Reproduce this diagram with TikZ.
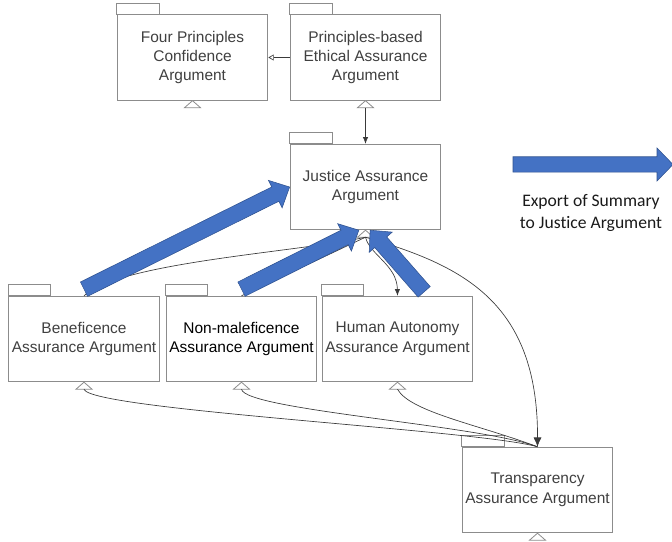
\documentclass[tikz,border=0pt]{standalone}
\usepackage{fontspec}
\setmainfont{Liberation Sans}
\newfontfamily\legendfont[Ligatures=NoCommon]{Carlito}
\usetikzlibrary{arrows.meta, positioning, calc}

\definecolor{boxline}{HTML}{8C8C8C}
\definecolor{boxtext}{HTML}{404040}
\definecolor{wire}{HTML}{3A3A3A}
\definecolor{exportblue}{HTML}{4472C4}
\definecolor{exportedge}{HTML}{2F528F}

\tikzset{
  pkg/.style={draw=boxline, line width=0.8pt, fill=white, minimum width=113pt, minimum height=64pt,
    inner sep=0pt, align=center, text=boxtext, font=\fontsize{11.6}{14.6}\selectfont},
  pkgtab/.style={draw=boxline, line width=0.8pt},
  pkgtri/.style={draw=boxline, line width=0.6pt, fill=white},
  wire/.style={draw=wire, line width=0.5pt},
  export/.style={fill=exportblue, draw=exportedge, line width=0.4pt}
}

% block arrow: tail, tip, shaft half width, head half width
\newcommand{\exportarrow}[4]{%
  \coordinate (xh) at ($(#2)!12pt!(#1)$);
  \filldraw[export] ($(#1)!#3!90:(#2)$) -- ($(xh)!#3!90:(#2)$) -- ($(xh)!#4!90:(#2)$) -- (#2)
    -- ($(xh)!#4!-90:(#2)$) -- ($(xh)!#3!-90:(#2)$) -- ($(#1)!#3!-90:(#2)$) -- cycle;
}

\begin{document}
\begin{tikzpicture}[x=0.75pt, y=-0.75pt]
      \useasboundingbox (0,0) rectangle (672,542);

      % Define boxes
      \node[pkg] (four) at (192.5, 57.5) {Four Principles\\Confidence\\Argument};
      \node[pkg] (pba) at (365.5, 57.5) {Principles-based\\Ethical Assurance\\Argument};
      \node[pkg] (just) at (365.5, 187) {Justice Assurance\\Argument};
      \node[pkg] (ben) at (84, 339) {Beneficence\\Assurance Argument};
      \node[pkg, text=black] (nonm) at (241.5, 339) {Non-maleficence\\Assurance Argument};
      \node[pkg] (hum) at (397.5, 339) {Human Autonomy\\Assurance Argument};
      \node[pkg] (trans) at (537.5, 490) {Transparency\\Assurance Argument};

      % Draw tabs
      \draw[pkgtab] (four.north west) rectangle ++(43, -11);
      \draw[pkgtab] (pba.north west) rectangle ++(43, -11);
      \draw[pkgtab] (just.north west) rectangle ++(43, -11);
      \draw[pkgtab] (ben.north west) rectangle ++(42, -11);
      \draw[pkgtab] (nonm.north west) rectangle ++(42, -11);
      \draw[pkgtab] (hum.north west) rectangle ++(42, -11);
      \draw[pkgtab] (trans.north west) rectangle ++(43, -11);

      % Draw triangles
      \draw[pkgtri] (four.south) -- ++(-8, 7) -- ++(16, 0) -- cycle;
      \draw[pkgtri] (pba.south) -- ++(-8, 7) -- ++(16, 0) -- cycle;
      \draw[pkgtri] (just.south) -- ++(-8, 7) -- ++(16, 0) -- cycle;
      \draw[pkgtri] (ben.south) -- ++(-8, 7) -- ++(16, 0) -- cycle;
      \draw[pkgtri] (nonm.south) -- ++(-8, 7) -- ++(16, 0) -- cycle;
      \draw[pkgtri] (hum.south) -- ++(-8, 7) -- ++(16, 0) -- cycle;
      \draw[pkgtri] (trans.south) -- ++(-8, 7) -- ++(16, 0) -- cycle;

      % Triangle bases
      \coordinate (pbatri) at ($(pba.south)+(0, 7)$);
      \coordinate (justri) at ($(just.south)+(0, 7)$);
      \coordinate (bentri) at ($(ben.south)+(0, 7)$);
      \coordinate (nonmtri) at ($(nonm.south)+(0, 7)$);
      \coordinate (humtri) at ($(hum.south)+(0, 7)$);

      % Draw connectors
      \draw[wire, -{Triangle[open, length=4pt, width=4.5pt]}] (pba.west) -- (four.east);
      \draw[wire, -{Latex[length=5pt, width=4pt]}] (pbatri) -- (just.north);
      \draw[wire] (ben.north) .. controls (120, 262) and (300, 252) .. (justri);
      \draw[wire] (nonm.north) -- (justri);
      \draw[wire, -{Latex[length=5pt, width=4pt]}] (justri) .. controls (370, 255) and (397, 265) .. (hum.north);
      \draw[wire, -{Latex[length=7pt, width=6pt]}] (justri) .. controls (460, 265) and (538, 300) .. (trans.north);
      \draw[wire] (bentri) .. controls (90, 410) and (480, 430) .. (trans.north);
      \draw[wire] (nonmtri) .. controls (245, 410) and (480, 425) .. (trans.north);
      \draw[wire] (humtri) .. controls (410, 412) and (480, 425) .. (trans.north);

      % Export arrows
      \coordinate (benexp) at ([yshift=5pt]ben.north);
      \coordinate (nonmexp) at ([yshift=5pt]nonm.north);
      \coordinate (humexp) at ([xshift=20pt, yshift=3pt]hum.north);
      \coordinate (justl) at ([xshift=-5pt]just.south);
      \coordinate (justr) at ([xshift=3.5pt]just.south);
      \exportarrow{benexp}{just.west}{6pt}{11.5pt}
      \exportarrow{nonmexp}{justl}{6pt}{11.5pt}
      \exportarrow{humexp}{justr}{6pt}{11.5pt}

      % Legend
      \coordinate (keytail) at (513, 164.5);
      \coordinate (keytip) at (673, 164.5);
      \exportarrow{keytail}{keytip}{5.8pt}{12.4pt}
      \node[align=center, text={rgb,255:red,26;green,26;blue,26}, font=\legendfont\fontsize{13.2}{17}\selectfont] (keytext) at (591, 213) {Export of Summary\\to Justice Argument};
  \end{tikzpicture}
\end{document}
